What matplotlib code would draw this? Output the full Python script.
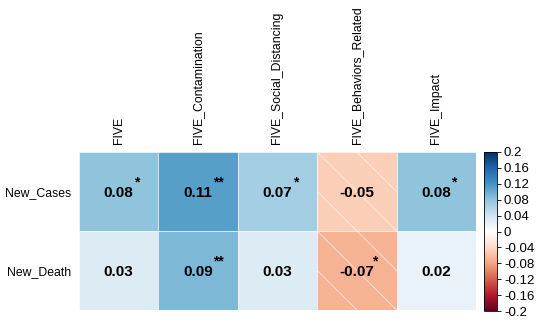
import numpy as np
import matplotlib
matplotlib.use('Agg')
import matplotlib.pyplot as plt
from matplotlib.colors import LinearSegmentedColormap, Normalize
from matplotlib.patches import Rectangle

# Data
columns = ['FIVE', 'FIVE_Contamination', 'FIVE_Social_Distancing',
           'FIVE_Behaviors_Related', 'FIVE_Impact']
rows = ['New_Cases', 'New_Death']
new_cases = [0.08, 0.11, 0.07, -0.05, 0.08]
new_death = [0.03, 0.09, 0.03, -0.07, 0.02]
stars_cases = ['*', '**', '*', '', '*']
stars_death = ['', '**', '', '*', '']
cbar_ticks = [-0.2, -0.16, -0.12, -0.08, -0.04, 0, 0.04, 0.08, 0.12, 0.16, 0.2]
cbar_labels = ['-0.2', '-0.16', '-0.12', '-0.08', '-0.04', '0',
               '0.04', '0.08', '0.12', '0.16', '0.2']

values = np.array([new_cases, new_death])
stars = [stars_cases, stars_death]

# corrplot-style RdBu palette
rdbu = ['#67001F', '#B2182B', '#D6604D', '#F4A582', '#FDDBC7', '#FFFFFF',
        '#D1E5F0', '#92C5DE', '#4393C3', '#2166AC', '#053061']
cmap = LinearSegmentedColormap.from_list('corr_rdbu', rdbu, N=256)
norm = Normalize(vmin=-0.2, vmax=0.2)

plt.rcParams['font.family'] = ['Liberation Sans', 'DejaVu Sans']

fig = plt.figure(figsize=(5.36, 3.28), dpi=100)
ax = fig.add_axes([79 / 536, 1 - 310 / 328, 397 / 536, 158 / 328])

nrow, ncol = values.shape
for i in range(nrow):
    for j in range(ncol):
        v = values[i, j]
        rect = Rectangle((j, i), 1, 1, facecolor=cmap(norm(v)),
                         edgecolor='white', linewidth=0.4)
        ax.add_patch(rect)
        if v < 0:
            # white diagonal lines on negative cells
            for c in np.arange(-1, 1.01, 0.5):
                ln, = ax.plot([j + c, j + c + 1], [i, i + 1], color='white',
                              linewidth=0.6, alpha=0.7)
                ln.set_clip_path(rect)
        ax.text(j + 0.5, i + 0.52, f'{v:.2f}', ha='center', va='center',
                fontsize=11, fontweight='bold', color='black')
        if stars[i][j]:
            ax.text(j + 0.69, i + 0.38, stars[i][j], ha='left', va='center',
                    fontsize=10, fontweight='bold', color='black')

ax.set_xlim(0, ncol)
ax.set_ylim(nrow, 0)
ax.set_xticks(np.arange(ncol) + 0.5)
ax.set_yticks(np.arange(nrow) + 0.5)
ax.xaxis.tick_top()
ax.set_xticklabels(columns, rotation=90, fontsize=8.8)
ax.set_yticklabels(rows, fontsize=8.8)
ax.tick_params(length=0, pad=6)
for s in ax.spines.values():
    s.set_visible(False)

# colorbar
cax = fig.add_axes([484 / 536, 1 - 311 / 328, 13 / 536, 159 / 328])
sm = plt.cm.ScalarMappable(norm=norm, cmap=cmap)
cb = fig.colorbar(sm, cax=cax, ticks=cbar_ticks)
cb.set_ticklabels(cbar_labels)
cb.ax.tick_params(labelsize=9.5, length=3, width=0.6, pad=2)
cb.outline.set_linewidth(0.6)

fig.savefig('out.png', dpi=100)
